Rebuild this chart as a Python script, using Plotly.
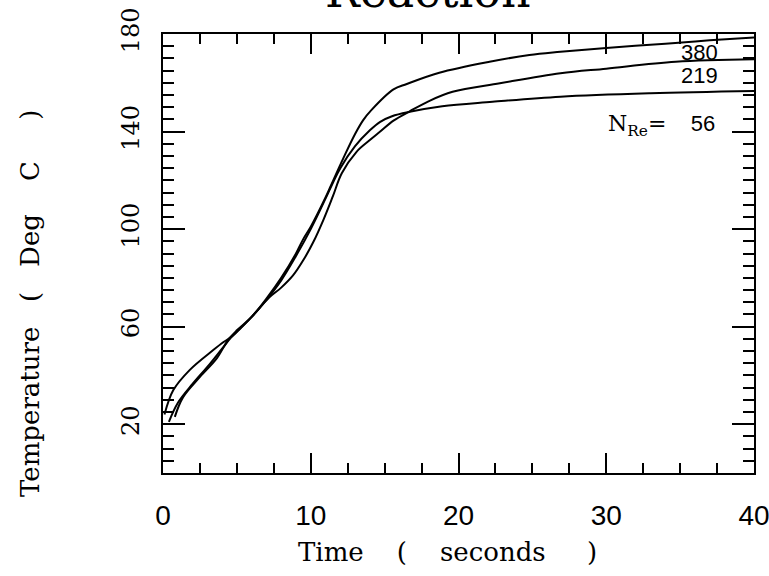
import plotly.graph_objects as go

# time (s) / temperature (deg C), one curve per Reynolds number
t_56 = [0.1, 0.7, 1.8, 3.4, 4.1, 4.5, 5.0, 6.0, 7.0, 8.0, 9.0, 10.0, 11.0, 11.5, 12.0, 13.0,
        14.0, 14.7, 15.5, 16.7, 18.9, 22.3, 26.9, 33.0, 40.0]
T_56 = [24.0, 34.0, 42.2, 50.4, 53.7, 55.3, 58.0, 64.0, 71.0, 79.0, 89.0, 100.0, 112.5, 119.0,
        125.0, 134.0, 140.5, 144.0, 146.3, 148.1, 150.4, 152.2, 154.3, 155.7, 156.6]

t_219 = [0.4, 1.0, 2.0, 3.0, 4.0, 4.6, 5.2, 6.0, 7.2, 8.0, 8.8, 9.5, 10.2, 10.85, 11.5, 12.1,
         13.1, 14.0, 14.7, 15.6, 16.7, 18.0, 19.6, 22.8, 26.9, 30.0, 34.7, 40.0]
T_219 = [21.0, 28.7, 36.5, 43.5, 51.0, 55.5, 59.0, 64.0, 72.0, 76.0, 81.0, 87.3, 95.0, 103.7,
         113.5, 122.9, 131.7, 136.5, 140.0, 144.5, 148.3, 152.5, 156.3, 159.8, 163.9, 165.8,
         168.6, 169.6]

t_380 = [0.8, 1.35, 2.5, 3.65, 4.4, 5.0, 6.0, 7.0, 8.0, 9.0, 9.5, 10.0, 11.0, 11.3, 12.2, 13.0,
         13.55, 14.1, 15.6, 16.5, 18.7, 22.1, 24.8, 26.9, 30.0, 34.0, 37.0, 40.0]
T_380 = [23.0, 31.0, 39.4, 47.1, 54.5, 58.5, 64.0, 71.5, 80.0, 90.0, 96.0, 101.0, 113.0, 117.0,
         129.0, 139.0, 144.7, 148.8, 157.3, 159.5, 164.1, 168.6, 171.4, 172.7, 174.3, 176.0,
         177.4, 178.6]

curve_labels = ["380", "219"]
label_pos = [(36.3, 172.4), (36.3, 163.0)]

x_ticks = [0, 10, 20, 30, 40]
y_labelled = [20, 60, 100, 140, 180]
y_long_unlabelled = [0, 40, 80, 120, 160]

serif = "DejaVu Serif"
sans = "Liberation Sans"
nb = "\u00a0"

fig = go.Figure()
for t, T in [(t_56, T_56), (t_219, T_219), (t_380, T_380)]:
    fig.add_trace(go.Scatter(x=t, y=T, mode="lines", line=dict(color="black", width=2),
                             line_shape="spline", showlegend=False))

for txt, (x, y) in zip(curve_labels, label_pos):
    fig.add_annotation(x=x, y=y, text=txt, showarrow=False,
                       font=dict(family=sans, size=22, color="black"))

fig.add_annotation(x=30.0, y=142.5, xanchor="left", showarrow=False,
                   text="<span style='font-family:DejaVu Serif'>N<sub>Re</sub>=</span>"
                        + nb * 4 + "56",
                   font=dict(family=sans, size=22, color="black"))

# title sits mostly off the top of the page, like the scan
fig.add_annotation(xref="paper", yref="paper", x=0.448, y=1.097, yanchor="middle",
                   text="Reaction", showarrow=False,
                   font=dict(family=serif, size=46, color="black"))

# axis titles as annotations so their spacing/position can follow the scan
fig.add_annotation(xref="paper", yref="paper", x=0.482, y=-0.18, yanchor="middle",
                   text="Time" + nb * 4 + "(" + nb * 4 + "seconds" + nb * 5 + ")",
                   showarrow=False, font=dict(family=serif, size=26, color="black"))
fig.add_annotation(xref="paper", yref="paper", x=-0.225, y=0.385, textangle=-90,
                   xanchor="center", yanchor="middle",
                   text="Temperature" + nb * 3 + "(" + nb * 3 + "Deg" + nb * 4 + "C" + nb * 5 + ")",
                   showarrow=False, font=dict(family=serif, size=26, color="black"))

tick_style = dict(ticks="inside", tickwidth=1.5, tickcolor="black", showgrid=False,
                  zeroline=False, automargin=False)

fig.update_xaxes(range=[0, 40], tickvals=x_ticks, ticklen=20, showline=True,
                 linecolor="black", linewidth=2, mirror="allticks",
                 minor=dict(dtick=2.5, ticks="inside", ticklen=10, tickcolor="black", tickwidth=1.5),
                 tickfont=dict(family=sans, size=28, color="black"),
                 ticklabelstandoff=16, ticklabeloverflow="allow", **tick_style)

fig.update_layout(
    yaxis=dict(range=[0, 180], tickvals=y_labelled, tickangle=-90, ticklen=22,
               showline=True, linecolor="black", linewidth=2, mirror="allticks",
               minor=dict(dtick=5, ticks="inside", ticklen=11, tickcolor="black", tickwidth=1.5),
               tickfont=dict(family=serif, size=24, color="black"),
               ticklabelstandoff=12, ticklabeloverflow="allow", **tick_style),
    yaxis2=dict(range=[0, 180], overlaying="y", side="left", tickvals=y_long_unlabelled,
                ticklen=22, showticklabels=False, showline=False, mirror="allticks",
                **tick_style),
)

fig.update_layout(width=769, height=576, margin=dict(l=163, r=15, t=34, b=103),
                  paper_bgcolor="white", plot_bgcolor="white")

# the page body's default 8px margin would push the figure off the window
fig.write_html("out.html", config={"displayModeBar": False},
               post_script="document.body.style.margin = '0';")
